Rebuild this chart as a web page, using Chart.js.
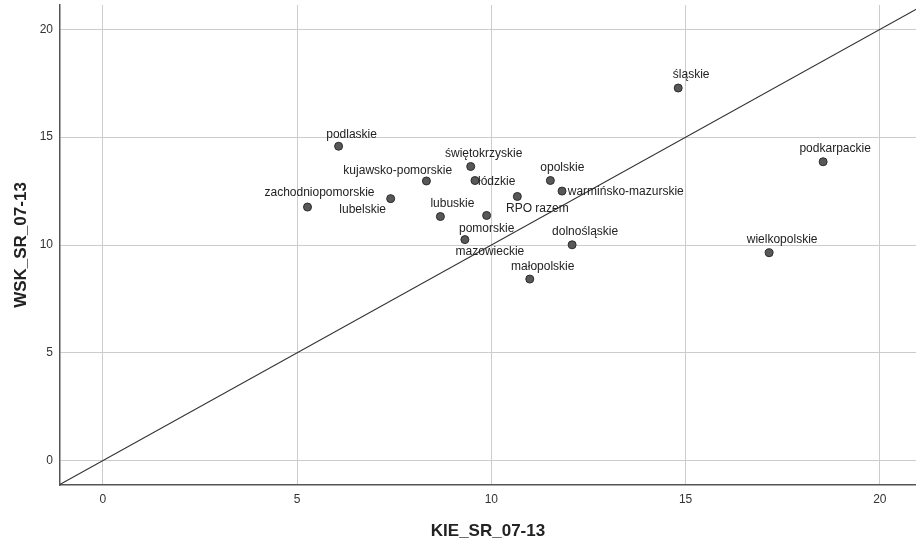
<!DOCTYPE html>
<html>
<head>
<meta charset="utf-8">
<script src="https://cdn.jsdelivr.net/npm/chart.js@4.4.0/dist/chart.umd.min.js"></script>
<style>
  html, body { margin: 0; padding: 0; background: #fff; }
  #wrap { width: 916px; height: 543px; }
</style>
</head>
<body>
<div id="wrap"><canvas id="chart" width="916" height="543"></canvas></div>
<script>
const regions = [
  "dolnośląskie", "kujawsko-pomorskie", "lubelskie", "lubuskie", "łódzkie",
  "małopolskie", "mazowieckie", "opolskie", "podkarpackie", "podlaskie",
  "pomorskie", "śląskie", "świętokrzyskie", "warmińsko-mazurskie",
  "wielkopolskie", "zachodniopomorskie", "RPO razem"
];
const kieValues = [12.08, 8.33, 7.41, 8.69, 9.58, 10.99, 9.32, 11.52, 18.54, 6.07, 9.88, 14.81, 9.47, 11.82, 17.15, 5.27, 10.67];
const wskValues = [10.01, 12.97, 12.15, 11.32, 12.99, 8.42, 10.25, 12.99, 13.86, 14.58, 11.37, 17.28, 13.64, 12.50, 9.64, 11.76, 12.25];

// where each label sits relative to its point (px, label centre)
const labelOffsets = [
  [13, -12.7], [-28.7, -10.3], [-28, 11], [12, -13], [21.7, 1],
  [13, -12], [25, 12], [12, -12.7], [12, -12.7], [13, -12],
  [0, 13.6], [13, -13], [13, -13], [63.7, 0.4],
  [13, -13], [12, -14], [20, 12.6]
];

const xTicks = [0, 5, 10, 15, 20];
const yTicks = [0, 5, 10, 15, 20];
const xRange = [-1.1, 20.93];
const yRange = [-1.13, 21.13];
const refLine = [-3, 23]; // y = x

const fontFamily = '"Liberation Sans", Arial, sans-serif';

const pointLabels = {
  id: "pointLabels",
  afterDatasetsDraw(chart) {
    const meta = chart.getDatasetMeta(0);
    const ctx = chart.ctx;
    ctx.save();
    ctx.font = "12px " + fontFamily;
    ctx.fillStyle = "#222";
    ctx.textAlign = "center";
    ctx.textBaseline = "middle";
    meta.data.forEach((pt, i) => {
      const [dx, dy] = labelOffsets[i];
      ctx.fillText(regions[i], pt.x + dx, pt.y + dy);
    });
    ctx.restore();
  }
};

const ctx = document.getElementById("chart").getContext("2d");

new Chart(ctx, {
  type: "scatter",
  data: {
    datasets: [
      {
        label: "regiony",
        data: regions.map((r, i) => ({ x: kieValues[i], y: wskValues[i] })),
        backgroundColor: "#585858",
        borderColor: "#2b2b2b",
        borderWidth: 1,
        pointRadius: 4,
        pointHoverRadius: 4
      },
      {
        label: "y = x",
        type: "line",
        data: refLine.map(v => ({ x: v, y: v })),
        borderColor: "#333",
        borderWidth: 1.2,
        pointRadius: 0,
        fill: false
      }
    ]
  },
  options: {
    responsive: false,
    animation: false,
    layout: { autoPadding: false, padding: { top: 5, right: 0, left: 0, bottom: 0 } },
    plugins: {
      legend: { display: false },
      tooltip: { enabled: false }
    },
    scales: {
      x: {
        type: "linear",
        position: "bottom",
        min: xRange[0],
        max: xRange[1],
        afterBuildTicks: s => { s.ticks = xTicks.map(v => ({ value: v })); },
        afterFit: s => { s.height = 58; s.paddingLeft = 0; s.paddingRight = 0; },
        grid: { color: "#cccccc", lineWidth: 1, drawTicks: false },
        border: { color: "#555", width: 1.5 },
        ticks: { padding: 7, color: "#333", font: { family: fontFamily, size: 12 } },
        title: {
          display: true,
          text: "KIE_SR_07-13",
          color: "#222",
          font: { family: fontFamily, size: 17, weight: "bold" },
          padding: { top: 0, bottom: 1 }
        }
      },
      y: {
        type: "linear",
        min: yRange[0],
        max: yRange[1],
        afterBuildTicks: s => { s.ticks = yTicks.map(v => ({ value: v })); },
        afterFit: s => { s.width = 60; s.paddingTop = 0; s.paddingBottom = 0; },
        grid: { color: "#cccccc", lineWidth: 1, drawTicks: false },
        border: { color: "#555", width: 1.5 },
        ticks: { padding: 7, color: "#333", font: { family: fontFamily, size: 12 } },
        title: {
          display: true,
          text: "WSK_SR_07-13",
          color: "#222",
          font: { family: fontFamily, size: 17, weight: "bold" },
          padding: { top: 11, bottom: 0 }
        }
      }
    }
  },
  plugins: [pointLabels]
});
</script>
</body>
</html>
